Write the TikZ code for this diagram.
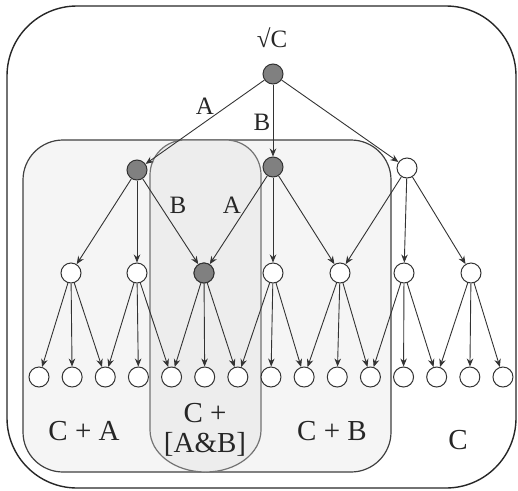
\documentclass[tikz,border=0pt]{standalone}
\usepackage{fontspec}
\setmainfont{Liberation Serif}
\usetikzlibrary{arrows.meta}
\begin{document}
\begin{tikzpicture}[x=1pt,y=-1pt,
  vert/.style={circle,draw=black!80,line width=1pt,fill=white,minimum size=20pt,inner sep=0pt},
  vgray/.style={vert,fill=black!50},
  edge/.style={draw=black!80,line width=0.9pt,-{Stealth[length=8pt,width=6.5pt]}},
  lab/.style={font=\fontsize{25}{25}\selectfont,text=black!85,inner sep=0pt},
  reg/.style={font=\fontsize{29}{31}\selectfont,text=black!85,inner sep=0pt,align=center}]
\useasboundingbox (0,0) rectangle (518,490);
% outer box
\draw[black!85,line width=1.4pt,rounded corners=70] (7,6) rectangle (516,488);
% C+A / C+B box
\draw[black!75,line width=1.2pt,fill=black!4,rounded corners=40] (23,140) rectangle (391,472);
% C+[A&B] pill
\draw[black!55,line width=1.2pt,fill=black!7] (150,300) [rounded corners=35] -- (150,140) -- (261,140) -- (261,300) [sharp corners] -- (261,430) .. controls (261,453.2) and (236.4,472) .. (205.5,472) .. controls (174.6,472) and (150,453.2) .. (150,430) -- cycle;
% nodes
\node[vgray] (r) at (273,74) {};
\node[lab] (rl) at (272,38) {√C};
\node[vgray] (a1) at (137,170) {};
\node[vgray] (a2) at (273,167) {};
\node[vert] (a3) at (407,168) {};
\foreach \x [count=\j from 0] in {71,137,204,273,340,404,471}{
  \node[vert] (m\j) at (\x,273) {};
}
\node[vgray] at (m2) {};
\foreach \i in {0,...,14}{
  \node[vert] (l\i) at ({39+33.14*\i},377) {};
}
% edges
\draw[edge] (r) -- (a1);
\draw[edge] (r) -- (a2);
\draw[edge] (r) -- (a3);
\draw[edge] (a1) -- (m0);
\draw[edge] (a1) -- (m1);
\draw[edge] (a1) -- (m2);
\draw[edge] (a2) -- (m2);
\draw[edge] (a2) -- (m3);
\draw[edge] (a2) -- (m4);
\draw[edge] (a3) -- (m4);
\draw[edge] (a3) -- (m5);
\draw[edge] (a3) -- (m6);
\foreach \j in {0,...,6}{
  \foreach \k in {0,1,2}{
    \pgfmathtruncatemacro{\leaf}{2*\j+\k}
    \draw[edge] (m\j) -- (l\leaf);
  }
}
% edge labels
\node[lab] (ea) at (205,106) {A};
\node[lab] (eb) at (262,122) {B};
\node[lab] (eb2) at (178,205) {B};
\node[lab] (ea2) at (232,205) {A};
% region labels
\node[reg] (ca) at (84,431) {C + A};
\node[reg] (cab) at (205,430) {C +\\[-1pt][A\&B]};
\node[reg] (cb) at (332,431) {C + B};
\node[reg] (c) at (458,440) {C};
\end{tikzpicture}
\end{document}
